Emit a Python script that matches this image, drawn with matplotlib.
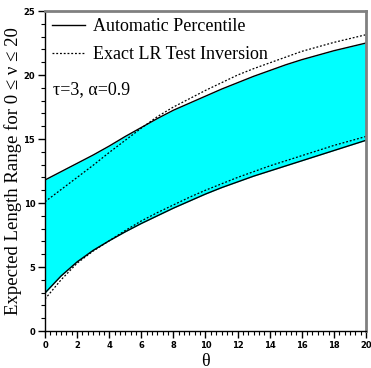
import numpy as np
import matplotlib.pyplot as plt
from matplotlib.ticker import MultipleLocator

# curves
theta = [0, 1, 2, 3, 4, 5, 6, 7, 8, 9, 10, 11, 12, 13, 14, 15, 16, 17, 18, 19, 20]
auto_upper = [11.8, 12.45, 13.1, 13.75, 14.45, 15.2, 15.9, 16.6, 17.25, 17.8, 18.35,
              18.9, 19.4, 19.9, 20.35, 20.8, 21.2, 21.55, 21.9, 22.2, 22.5]
auto_lower = [2.97, 4.3, 5.4, 6.3, 7.05, 7.75, 8.4, 9.0, 9.6, 10.15, 10.7,
              11.2, 11.65, 12.1, 12.5, 12.9, 13.3, 13.7, 14.1, 14.5, 14.9]
exact_upper = [10.1, 11.05, 12.0, 12.95, 13.95, 14.9, 15.85, 16.75, 17.5, 18.15, 18.8,
               19.4, 20.0, 20.5, 20.95, 21.4, 21.85, 22.2, 22.55, 22.85, 23.15]
exact_lower = [2.5, 4.0, 5.3, 6.25, 7.05, 7.85, 8.6, 9.25, 9.85, 10.45, 11.0,
               11.5, 12.0, 12.45, 12.9, 13.3, 13.7, 14.1, 14.5, 14.85, 15.2]

plt.rcParams['font.family'] = 'Liberation Serif'

fig = plt.figure(figsize=(3.71, 3.68), dpi=100)
ax = fig.add_axes([0.1213, 0.1005, 0.8652, 0.8695])

ax.fill_between(theta, auto_lower, auto_upper, color='#00ffff', lw=0)
ax.plot(theta, auto_upper, color='black', lw=1.0, label='Automatic Percentile')
ax.plot(theta, auto_lower, color='black', lw=1.0)
ax.plot(theta, exact_upper, color='black', lw=0.9, ls=(0, (1.5, 1.5)), label='Exact LR Test Inversion')
ax.plot(theta, exact_lower, color='black', lw=0.9, ls=(0, (1.5, 1.5)))

ax.set_xlim(0, 20)
ax.set_ylim(0, 25)
ax.xaxis.set_major_locator(MultipleLocator(2))
ax.xaxis.set_minor_locator(MultipleLocator(1 / 3))
ax.yaxis.set_major_locator(MultipleLocator(5))
ax.yaxis.set_minor_locator(MultipleLocator(1))
ax.tick_params(which='major', direction='out', length=5, width=1, pad=2,
               labelsize=6)
ax.tick_params(which='minor', direction='out', length=3, width=0.8)
for lab in ax.get_xticklabels() + ax.get_yticklabels():
    lab.set_fontfamily('DejaVu Sans')
    lab.set_fontweight('bold')

for s in ['top', 'right']:
    ax.spines[s].set_color('#808080')
    ax.spines[s].set_linewidth(2)
for s in ['left', 'bottom']:
    ax.spines[s].set_linewidth(1)

ax.set_xlabel('θ', fontsize=13, labelpad=2)
ax.set_ylabel('Expected Length Range for 0 ≤ ν ≤ 20', fontsize=13.5, labelpad=1)

ax.legend(loc='upper left', frameon=False, fontsize=13, handlelength=1.8,
          handletextpad=0.45, borderaxespad=0.1, borderpad=0.3, labelspacing=0.6)
ax.text(0.025, 0.753, 'τ=3, α=0.9', transform=ax.transAxes, fontsize=13,
        va='center')

fig.savefig('out.png', dpi=100)
